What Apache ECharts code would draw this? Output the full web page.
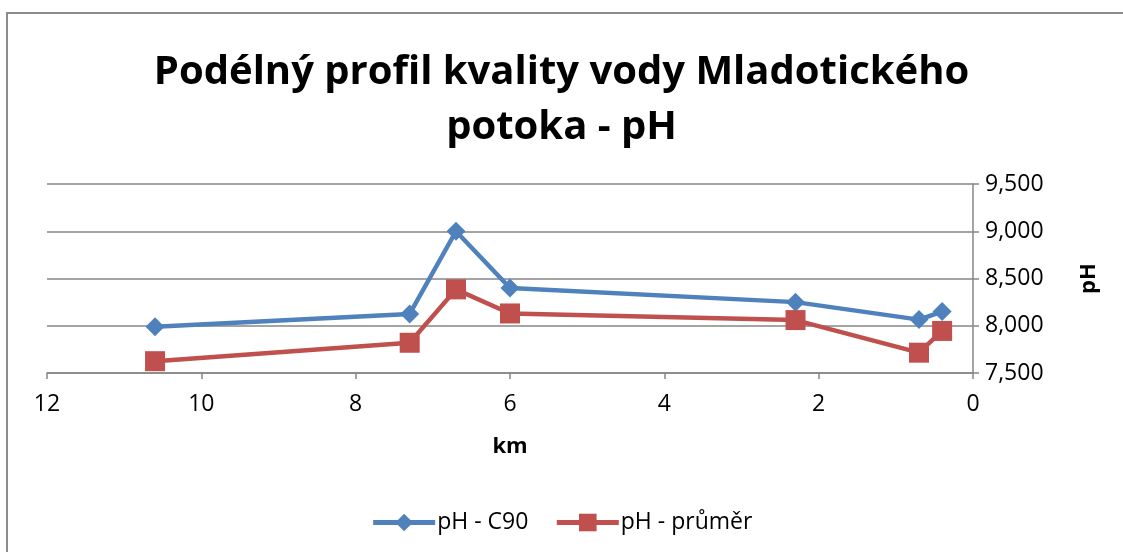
<!DOCTYPE html>
<html>
<head>
<meta charset="utf-8">
<script src="https://cdn.jsdelivr.net/npm/echarts@6/dist/echarts.min.js"></script>
<style>
  html, body { margin: 0; padding: 0; background: #fff; }
  #chart { width: 1123px; height: 552px; }
</style>
</head>
<body>
<div id="chart"></div>
<script>
// km od ústí
const km = [10.6, 7.3, 6.7, 6.0, 2.3, 0.7, 0.4]
const phC90 = [7990, 8125, 9000, 8400, 8250, 8065, 8150]
const phPrumer = [7625, 7820, 8385, 8130, 8060, 7715, 7945]
const seriesNames = ['pH - C90', 'pH - průměr']

const FONT = '"Open Sans", "DejaVu Sans", sans-serif'

const chart = echarts.init(document.getElementById('chart'))

const option = {
  backgroundColor: '#fff',
  animation: false,
  title: {
    text: 'Podélný profil kvality vody Mladotického\npotoka - pH',
    left: 'center',
    top: 40,
    textStyle: {
      fontFamily: FONT,
      fontWeight: 'bold',
      fontSize: 40,
      lineHeight: 55,
      color: '#000'
    }
  },
  legend: {
    bottom: 13,
    left: 'center',
    itemWidth: 62,
    itemHeight: 22,
    itemGap: 26,
    lineStyle: { width: 5 },
    textStyle: { fontFamily: FONT, fontSize: 23, color: '#000', padding: [0, 0, 0, -3] },
    data: seriesNames
  },
  graphic: [{
    type: 'rect',
    shape: { x: 7, y: 13, width: 1200, height: 600 },
    style: { fill: 'none', stroke: '#8c8c8c', lineWidth: 2 },
    silent: true
  }],
  grid: {
    left: 47,
    right: 150,
    top: 184,
    bottom: 179
  },
  xAxis: {
    type: 'value',
    min: 0,
    max: 12,
    interval: 2,
    inverse: true,
    name: 'km',
    nameLocation: 'middle',
    nameGap: 63,
    nameTextStyle: { fontFamily: FONT, fontWeight: 'bold', fontSize: 22, color: '#000' },
    axisLine: { lineStyle: { color: '#868686', width: 1.5 } },
    axisTick: { show: true, length: 6, lineStyle: { color: '#868686', width: 1.5 } },
    axisLabel: { fontFamily: FONT, fontSize: 23, color: '#000', margin: 20 },
    splitLine: { show: false }
  },
  yAxis: {
    type: 'value',
    position: 'right',
    min: 7500,
    max: 9500,
    interval: 500,
    name: 'pH',
    nameLocation: 'middle',
    nameRotate: 90,
    nameGap: 105,
    nameTextStyle: { fontFamily: FONT, fontWeight: 'bold', fontSize: 22, color: '#000' },
    axisLine: { show: true, lineStyle: { color: '#868686', width: 1.5 } },
    axisTick: { show: true, length: 6, lineStyle: { color: '#868686', width: 1.5 } },
    axisLabel: {
      fontFamily: FONT,
      fontSize: 23,
      color: '#000',
      margin: 12,
      formatter: v => v.toLocaleString('en-US')
    },
    splitLine: { lineStyle: { color: '#868686', width: 1.5 } }
  },
  series: [
    {
      name: seriesNames[0],
      type: 'line',
      data: km.map((k, i) => [k, phC90[i]]),
      symbol: 'diamond',
      symbolSize: 19,
      itemStyle: { color: '#4F81BD' },
      lineStyle: { color: '#4F81BD', width: 4.5 }
    },
    {
      name: seriesNames[1],
      type: 'line',
      data: km.map((k, i) => [k, phPrumer[i]]),
      symbol: 'rect',
      symbolSize: 20,
      itemStyle: { color: '#C0504D' },
      lineStyle: { color: '#C0504D', width: 4.5 }
    }
  ]
}

chart.setOption(option)
</script>
</body>
</html>
